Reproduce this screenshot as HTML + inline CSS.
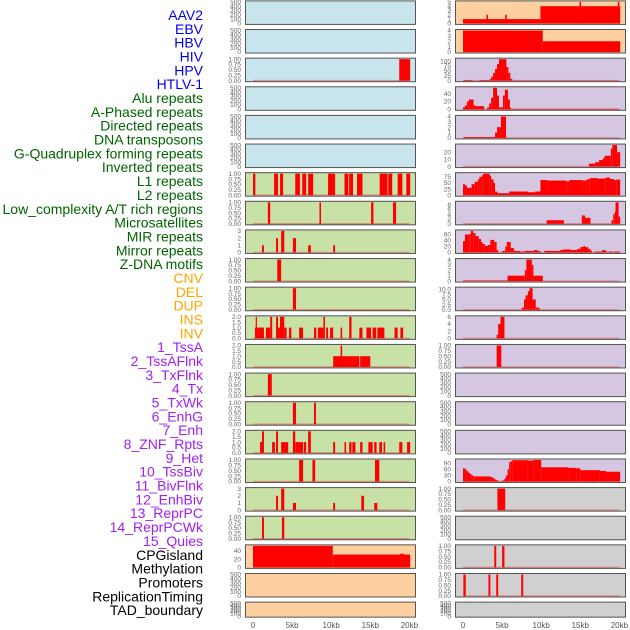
<!DOCTYPE html>
<html><head><meta charset="utf-8">
<style>
html,body{margin:0;padding:0;background:#fff;}
svg{display:block;font-family:"Liberation Sans",sans-serif;}
</style></head>
<body>
<svg id="chart" width="630" height="630" viewBox="0 0 630 630"></svg>
<script>
// ---- label data ----
const labelNames = ["AAV2","EBV","HBV","HIV","HPV","HTLV-1","Alu repeats","A-Phased repeats","Directed repeats","DNA transposons","G-Quadruplex forming repeats","Inverted repeats","L1 repeats","L2 repeats","Low_complexity A/T rich regions","Microsatellites","MIR repeats","Mirror repeats","Z-DNA motifs","CNV","DEL","DUP","INS","INV","1_TssA","2_TssAFlnk","3_TxFlnk","4_Tx","5_TxWk","6_EnhG","7_Enh","8_ZNF_Rpts","9_Het","10_TssBiv","11_BivFlnk","12_EnhBiv","13_ReprPC","14_ReprPCWk","15_Quies","CPGisland","Methylation","Promoters","ReplicationTiming","TAD_boundary"];
const labelGroups = [6,13,5,15,5];
const groupColors = ["#0000ee","#006400","#ffa500","#a020f0","#000000"];
const xTickValues = [0,5,10,15,20];
const xTickLabels = ["0","5kb","10kb","15kb","20kb"];

// ---- panel data: segments [startKb, endKb, value] ----
const T500 = [0,100,200,300,400,500];
const T1 = [0,0.25,0.5,0.75,1];
const L1 = [], L2 = [], L4 = [], L5 = [], L6 = [], L21 = [], L22 = [];
const L3 = [[18.7,20.1,1]];
const L7 = [[0,0.3,1],[2.7,3.2,1],[3.46,3.85,1],[5.4,6.0,1],[6.3,6.8,1],[7.05,7.7,1],[9.6,10.5,1],[11.7,12.2,1],[12.3,12.8,1],[13.3,14.0,1],[16.2,17.2,1],[17.3,17.8,1],[18.5,19.1,1],[19.6,20.1,1]];
const L8 = [[1.9,2.2,1],[8.5,8.7,1],[15.1,15.4,1],[17.9,18.3,1]];
const L9 = [[1.15,1.4,1],[2.95,3.2,2],[3.6,4.0,3],[5.1,5.5,2],[7.05,7.4,1],[10.25,10.5,1]];
const L10 = [[3.1,3.6,1]];
const L11 = [[5.1,5.5,1]];
const L12 = [[0.25,0.65,1],[0.35,0.5,2],[0.65,1.4,1],[1.65,2.2,1],[2.2,2.45,2],[2.95,3.2,2],[3.2,3.45,1],[3.45,4.0,2],[4.0,4.3,1],[4.6,4.9,1],[5.9,6.4,1],[7.8,8.1,1],[8.3,9.0,1],[9.0,9.2,2],[9.35,9.6,1],[9.85,10.25,1],[11.2,11.4,1],[12.3,12.6,2],[13.6,14.0,1],[14.5,15.1,1],[15.3,15.75,1],[15.9,16.8,1],[18.1,18.5,1],[18.85,19.2,1]];
const L13 = [[10.25,13.6,1],[11.2,11.4,2],[13.7,15.0,1]];
const L14 = [[1.9,2.4,1]];
const L15 = [[5.1,5.5,1],[7.8,8.05,1]];
const L16 = [[0.9,1.15,1],[1.15,1.4,2],[2.44,2.8,1],[2.95,3.2,2],[3.6,4.1,1],[4.1,4.5,1],[5.1,5.4,2],[5.4,6.4,1],[6.5,6.8,1],[7.05,7.4,2],[10.25,10.5,1],[11.7,11.9,1],[12.3,12.6,1],[12.7,13.1,1],[13.7,14.0,1],[14.75,15.3,1],[15.5,15.8,1],[16.15,16.5,1],[16.7,16.9,1],[18.7,19.1,1],[19.7,20.1,1]];
const L17 = [[5.9,6.4,1],[7.6,7.95,1],[15.6,16.15,1]];
const L18 = [[2.95,3.2,2],[3.6,4.0,3],[5.1,5.5,1],[10.25,10.5,1],[13.85,14.2,2],[15.5,15.9,1]];
const L19 = [[1.15,1.4,1],[3.7,4.0,1]];
const L20 = [[0,10.2,52],[10.2,18.8,31],[18.8,19.3,33],[19.3,20.1,31]];

const R1 = [[0,9.9,1],[3.0,3.2,2],[5.4,5.6,2],[9.9,20.1,4],[14.9,15.1,5],[19.8,20.0,5]];
const R2 = [[0,10.2,4],[10.2,20.1,2]];
const R3 = [[0.05,1.2,3],[2.1,3.4,3],[3.4,3.6,8],[3.6,3.85,20],[3.85,4.1,40],[4.1,4.35,60],[4.35,4.6,85],[4.6,5.55,110],[5.55,5.8,70],[5.8,6.05,40],[6.05,6.3,10],[6.3,20,1]];
const R4 = [[0,0.25,5],[0.25,0.5,10],[0.5,0.75,20],[0.75,1.35,25],[1.35,1.6,10],[1.6,2.7,8],[3.1,3.35,5],[3.35,3.6,15],[3.6,3.85,30],[3.85,4.35,55],[4.35,4.6,35],[4.6,5.1,5],[5.1,5.35,35],[5.35,5.75,50],[5.75,6.0,25],[6.0,6.1,5],[6.1,20,1]];
const R5 = [[0.1,4.1,0.15],[4.1,4.35,1],[4.35,4.85,2],[4.85,5.5,4]];
const R6 = [[16.1,16.9,4],[16.9,17.4,6],[17.4,17.9,9],[17.9,18.1,12],[18.1,18.9,15],[18.9,19.1,25],[19.1,19.7,30],[19.7,20.1,20]];
const R7 = [[0,0.25,45],[0.25,0.5,40],[0.5,1.1,30],[1.1,1.5,45],[1.5,1.9,55],[1.9,2.1,65],[2.1,2.4,75],[2.4,2.6,82],[2.6,3.4,88],[3.4,3.6,80],[3.6,3.9,65],[3.9,4.1,50],[4.1,4.4,15],[4.4,4.6,8],[4.6,5.9,8],[5.9,8.3,15],[8.3,9.2,12],[9.2,9.9,15],[9.9,10.8,62],[10.8,13.2,60],[13.2,13.6,57],[13.6,15.3,62],[15.3,15.8,60],[15.8,16.2,65],[16.2,17.2,70],[17.2,18.2,68],[18.2,18.8,72],[18.8,19.3,66],[19.3,19.6,62],[19.6,20.1,64]];
const R8 = [[10.7,12.9,1.5],[15.2,15.6,3.5],[15.6,16.3,2.5],[19.0,19.2,1.5],[19.2,19.4,4],[19.4,19.5,5],[19.5,19.9,9],[19.9,20.1,3]];
const R9 = [[0,0.25,38],[0.25,0.8,60],[0.8,1.0,62],[1.0,1.3,72],[1.3,1.6,65],[1.6,2.0,55],[2.0,2.3,45],[2.3,2.5,35],[2.5,2.8,28],[2.8,3.2,22],[3.2,3.5,25],[3.5,4.0,42],[4.0,4.3,35],[4.3,4.5,8],[5.0,5.4,5],[5.4,5.6,20],[5.6,6.1,35],[6.1,6.5,15],[6.5,7.3,5],[7.3,7.9,3],[7.9,9.1,5],[9.1,9.5,8],[9.5,9.9,5],[10.4,12.4,5],[12.4,12.8,8],[12.8,13.3,10],[13.3,13.8,10],[13.8,14.6,8],[14.6,15.0,12],[15.0,15.4,18],[15.4,15.6,22],[15.6,16.0,18],[16.0,16.3,12],[16.3,16.5,5],[16.8,17.8,3],[17.8,18.2,8],[18.2,18.4,5],[18.6,19.1,3],[19.2,20.1,3]];
const R10 = [[0,5.7,0.1],[5.7,7.9,1],[7.9,8.1,2],[8.1,8.8,4],[8.8,9.0,3],[9.0,10.2,1]];
const R11 = [[7.5,7.8,1],[7.8,8.0,5],[8.0,8.3,7],[8.3,8.5,9],[8.5,8.9,10.5],[8.9,9.3,5],[9.3,9.8,1]];
const R12 = [[4.3,4.5,1],[4.5,4.8,4],[4.8,5.3,6]];
const R13 = [[4.3,4.9,1]];
const R14 = [], R15 = [], R16 = [], R19 = [], R22 = [];
const R17 = [[0,0.3,65],[0.3,0.5,58],[0.5,0.7,50],[0.7,0.9,42],[0.9,1.1,36],[1.1,1.3,30],[1.3,1.5,26],[1.5,3.5,25],[3.5,3.8,22],[3.8,4.1,15],[4.1,4.4,8],[4.4,4.6,3],[4.6,5.0,0.5],[5.0,5.3,5],[5.3,5.5,15],[5.5,5.7,30],[5.7,5.9,60],[5.9,6.1,95],[6.1,6.3,100],[6.3,8.3,105],[8.3,9.0,103],[9.0,10.0,106],[10.0,13.5,70],[13.5,14.5,67],[14.5,15.0,65],[15.0,17.5,56],[17.5,18.3,52],[18.3,20.1,48]];
const R18 = [[4.4,5.4,1]];
const R20 = [[4.0,4.25,1],[5.0,5.3,1]];
const R21 = [[0.05,0.35,1],[3.25,3.5,1],[4.25,4.5,1],[7.45,7.7,1]];

// ---- panel configuration: [data, ticks, ymax, bg] ----
const BLUE="#c8e4ec", GREEN="#c8e1a6", PEACH="#fed09f", PURP="#d5c6e1", GREY="#d0d0d0";
const leftPanels = [
 [L1,T500,500,BLUE],[L2,T500,500,BLUE],[L3,T1,1,BLUE],[L4,T500,500,BLUE],[L5,T500,500,BLUE],[L6,T500,500,BLUE],
 [L7,T1,1,GREEN],[L8,T1,1,GREEN],[L9,[0,1,2,3],3,GREEN],[L10,T1,1,GREEN],[L11,T1,1,GREEN],
 [L12,[0,0.5,1,1.5,2],2,GREEN],[L13,[0,0.5,1,1.5,2],2,GREEN],[L14,T1,1,GREEN],[L15,T1,1,GREEN],
 [L16,[0,0.5,1,1.5,2],2,GREEN],[L17,T1,1,GREEN],[L18,[0,1,2,3],3,GREEN],[L19,T1,1,GREEN],
 [L20,[0,20,40],52,PEACH],[L21,T500,500,PEACH],[L22,T500,500,PEACH]
];
const rightPanels = [
 [R1,[0,1,2,3,4,5],5,PEACH],[R2,[0,1,2,3,4],4,PEACH],
 [R3,[0,25,50,75,100],110,PURP],[R4,[0,20,40],55,PURP],[R5,[0,1,2,3,4],4,PURP],[R6,[0,10,20],30,PURP],
 [R7,[0,25,50,75],88,PURP],[R8,[0,2,4,6,8],9,PURP],[R9,[0,20,40,60],72,PURP],[R10,[0,1,2,3,4],4,PURP],
 [R11,[0,2.5,5,7.5,10],10.5,PURP],[R12,[0,2,4,6],6,PURP],[R13,T1,1,PURP],[R14,T500,500,PURP],[R15,T500,500,PURP],
 [R16,T500,500,PURP],[R17,[0,30,60,90],106,PURP],
 [R18,T1,1,GREY],[R19,T500,500,GREY],[R20,T1,1,GREY],[R21,T1,1,GREY],[R22,T500,500,GREY]
];

const NS="http://www.w3.org/2000/svg";
const svg=document.getElementById('chart');
function mk(tag,attrs,parent){const e=document.createElementNS(NS,tag);for(const k in attrs)e.setAttribute(k,attrs[k]);(parent||svg).appendChild(e);return e;}

// labels
let li=0;
labelGroups.forEach((n,g)=>{for(let j=0;j<n;j++){
  const t=mk('text',{x:203,y:15+li*13.84+5,'text-anchor':'end','font-size':14,fill:groupColors[g]});
  
  
  t.textContent=labelNames[li];li++;}});

const PITCH=28.63;
function rowTop(i){return 0.4+i*PITCH;}
function rowH(i){return i===21?16:24.5;}

function drawPanel(p,i,px,x0){
  const [data,ticks,ymax,bg]=p;
  const top=rowTop(i),h=rowH(i),bot=top+h;
  const xs=kb=>x0+kb*7.82;
  const ys=v=>(bot-1.5)-(v/ymax)*(h-3);
  const g=mk('g',{});
  
  
  mk('rect',{x:px,y:top,width:171,height:h,fill:bg},g);
  if(data.length){
    const bl=mk('line',{x1:xs(0),x2:xs(20),y1:bot-1.5,y2:bot-1.5,stroke:'#e06060','stroke-width':1.5,opacity:0.6},g);
    
    
  }
  data.forEach(d=>{
    const r=mk('rect',{x:xs(d[0]),y:ys(d[2]),width:Math.max(0.8,xs(d[1])-xs(d[0])),height:(bot-1.5)-ys(d[2]),fill:'#ff0000'},g);
    
    
  });
  mk('rect',{x:px+0.5,y:top+0.5,width:170,height:h-1,fill:'none',stroke:'#555','stroke-width':1},g);
  ticks.forEach(tv=>{
    const t=mk('text',{x:px-4,y:ys(tv)+2.2,'text-anchor':'end','font-size':6.5,fill:'#666'},g);
    
    
    t.textContent=(ymax<=1&&ticks.length===5)?tv.toFixed(2):(ticks.includes(2.5)||ticks.includes(1.5)?tv.toFixed(1):String(tv));
  });
}
leftPanels.forEach((p,i)=>drawPanel(p,i,245,253));
rightPanels.forEach((p,i)=>drawPanel(p,i,455,463));

// x axes
[253,463].forEach(x0=>{xTickValues.forEach((v,k)=>{
  const t=mk('text',{x:x0+v*7.82,y:628,'text-anchor':'middle','font-size':8,fill:'#555'});
  
  
  t.textContent=xTickLabels[k];});});
</script>
</body></html>
